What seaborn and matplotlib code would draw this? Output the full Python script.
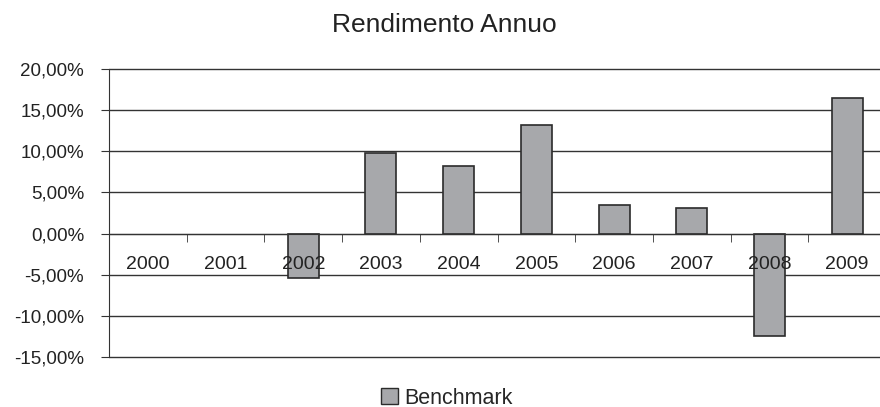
import matplotlib
matplotlib.use('Agg')
import matplotlib.pyplot as plt
import seaborn as sns
import pandas as pd
from matplotlib.patches import Patch
from matplotlib.ticker import FuncFormatter, FixedLocator

years = ['2000', '2001', '2002', '2003', '2004', '2005', '2006', '2007', '2008', '2009']
benchmark = [0.0, 0.0, -5.4, 9.8, 8.2, 13.2, 3.5, 3.1, -12.5, 16.5]
y_ticks = [-15, -10, -5, 0, 5, 10, 15, 20]

bar_color = '#a7a8ab'
edge_color = '#2b2b2b'

df = pd.DataFrame({'Anno': years, 'Benchmark': benchmark})

sns.set_style('white')
plt.rcParams['font.family'] = ['Liberation Sans', 'DejaVu Sans']

fig = plt.figure(figsize=(8.8, 4.07), dpi=100)
ax = fig.add_axes([109 / 880, 50 / 407, 777 / 880, 288 / 407])

sns.barplot(data=df, x='Anno', y='Benchmark', color=bar_color, edgecolor=edge_color,
            linewidth=1.2, width=0.4, saturation=1, ax=ax)

# zero-height bars should not leave a stroke on the axis
for p in ax.patches:
    if p.get_height() == 0:
        p.set_visible(False)

ax.set_ylim(-15, 20)
ax.set_xlim(-0.5, len(years) - 0.5)
ax.set_yticks(y_ticks)
ax.yaxis.set_major_formatter(FuncFormatter(lambda v, p: f'{v:.2f}'.replace('.', ',') + '%'))
ax.grid(axis='y', color='#333333', linewidth=1)
ax.set_axisbelow(True)
for gl in ax.get_ygridlines():
    gl.set_clip_on(False)

for s in ['top', 'right']:
    ax.spines[s].set_visible(False)
ax.spines['left'].set_color('#333333')
ax.spines['bottom'].set_color('#333333')
ax.spines['bottom'].set_position(('data', 0))

ax.set_xlabel('')
ax.set_ylabel('')
ax.xaxis.set_minor_locator(FixedLocator([i - 0.5 for i in range(len(years) + 1)]))
ax.tick_params(axis='x', which='major', length=0, labelbottom=False)
ax.tick_params(axis='x', which='minor', length=6, direction='out', color='#333333', bottom=True)
ax.tick_params(axis='y', length=6, direction='out', pad=12, labelsize=13.5, color='#333333',
               labelcolor='#222222', left=True)

# category labels drawn above the bars, like the original
for i, yr in enumerate(years):
    ax.annotate(yr, xy=(i, 0), xytext=(0, -22), textcoords='offset points', ha='center',
                va='center', fontsize=14, color='#222222', zorder=10)

fig.text(0.505, 1 - 25 / 407, 'Rendimento Annuo', ha='center', va='center', fontsize=19,
         color='#222222')

handle = Patch(facecolor=bar_color, edgecolor=edge_color, linewidth=1.0)
fig.legend([handle], ['Benchmark'], loc='center', bbox_to_anchor=(0.508, 9 / 407), frameon=False,
           fontsize=15.5, handlelength=0.8, handleheight=0.8, handletextpad=0.3)

plt.savefig('out.png', dpi=100)
plt.close()
